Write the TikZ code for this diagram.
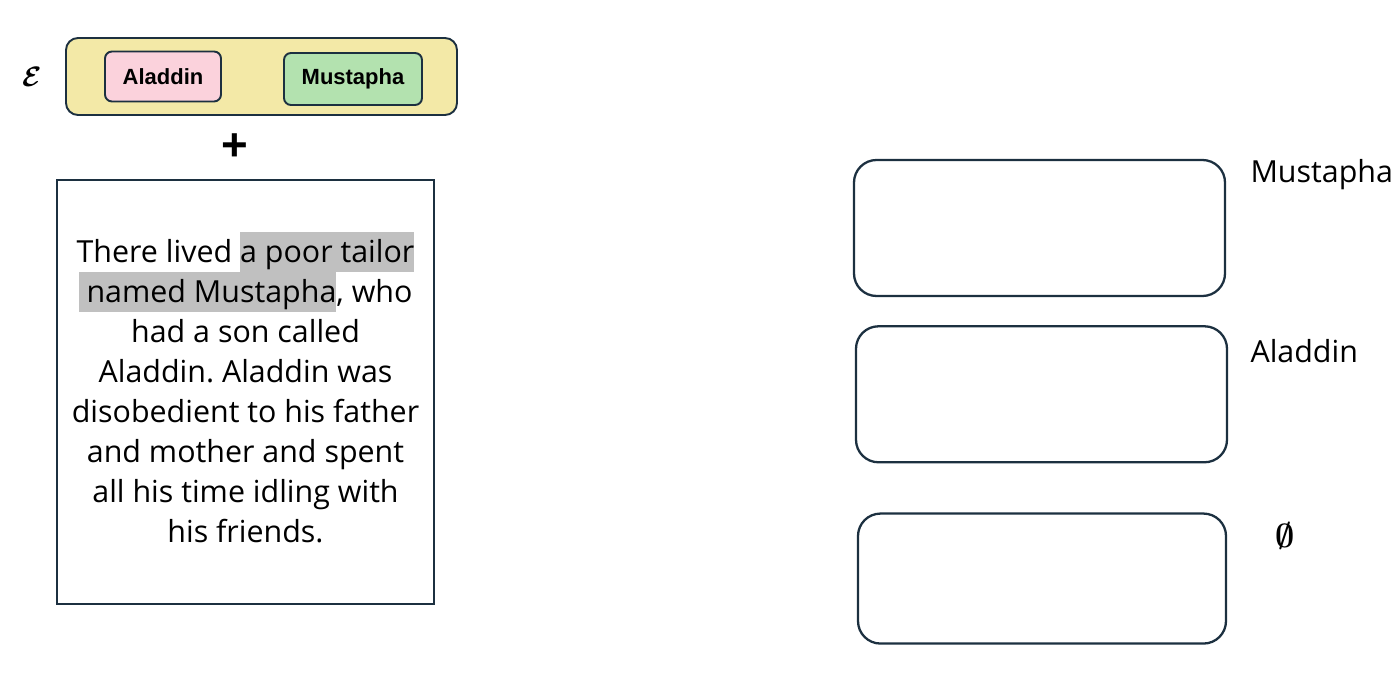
\documentclass[tikz,border=0pt]{standalone}
\usepackage{fontspec}
\setmainfont{Open Sans}
\newfontfamily\boxfont{Liberation Sans}
\usetikzlibrary{positioning}

\definecolor{navy}{HTML}{1C3040}
\definecolor{entyellow}{HTML}{F3E9A7}
\definecolor{entpink}{HTML}{FBD2DC}
\definecolor{entgreen}{HTML}{B3E2AF}
\definecolor{hlgrey}{HTML}{C0C0C0}

\newcommand{\hlmark}[1]{{\setlength{\fboxsep}{0pt}\colorbox{hlgrey}{\rule[-0.18cm]{0pt}{0.79cm}#1}}}

\begin{document}
\frenchspacing
\begin{tikzpicture}[
    entbox/.style={draw=navy, line width=1.1pt, rounded corners=0.14cm, minimum width=2.32cm, minimum height=1cm, font=\boxfont\bfseries\fontsize{12.5}{15}\selectfont},
    slot/.style={draw=navy, line width=1.3pt, rounded corners=0.45cm, minimum width=7.42cm, minimum height=2.72cm},
    slotlabel/.style={inner sep=0pt, font=\fontsize{17.3}{20}\selectfont}]

    \useasboundingbox (0,0) rectangle (28,-13.72);

    % entity set
    \node[draw=navy, line width=1.1pt, fill=entyellow, rounded corners=0.24cm, minimum width=7.82cm, minimum height=1.54cm] (entset) at (5.23,-1.53) {};
    \node[entbox, fill=entpink, right=0.78cm of entset.west] (ent1) {Aladdin};
    \node[entbox, fill=entgreen, minimum width=2.76cm, minimum height=1.04cm, left=0.7cm of entset.east, yshift=-0.05cm] (ent2) {\raisebox{-0.03cm}{Mustapha}};
    \node[left=0.46cm of entset, inner sep=0pt] (entsym) {\scalebox{1.6}{\boldmath$\mathcal{E}$}};

    \node[inner sep=0pt, font=\boxfont\bfseries\fontsize{26}{30}\selectfont] (plus) at (4.70,-2.94) {+};

    % input text
    \node[draw=navy, line width=1.1pt, minimum width=7.54cm, minimum height=8.48cm] (story) at (4.91,-7.84) {};
    \node[align=center, inner sep=0pt, yshift=0.09cm, font=\fontsize{17.3}{22.76}\selectfont] (storytext) at (story.center) {There lived \hlmark{a poor tailor}\\ \hlmark{\hspace{0.16cm}named Mustapha}, who\\ had a son called\\ Aladdin. Aladdin was\\ disobedient to his father\\ and mother and spent\\ all his time idling with\\ his friends.};

    % output slots
    \node[slot] (slot1) at (20.79,-4.56) {};
    \node[slot, below=0.56cm of slot1, xshift=0.04cm] (slot2) {};
    \node[slot, minimum width=7.36cm, minimum height=2.6cm, below=0.98cm of slot2, xshift=0.01cm] (slot3) {};

    \node[slotlabel, right=0.48cm of slot1.north east, yshift=-0.38cm, anchor=mid west] (label1) {Mustapha};
    \node[slotlabel, right=0.44cm of slot2.north east, yshift=-0.66cm, anchor=mid west] (label2) {Aladdin};
    \node[inner sep=0pt, right=0.96cm of slot3.north east, yshift=-0.46cm] (label3) {\scalebox{1.9}{\boldmath$\emptyset$}};
\end{tikzpicture}
\end{document}
